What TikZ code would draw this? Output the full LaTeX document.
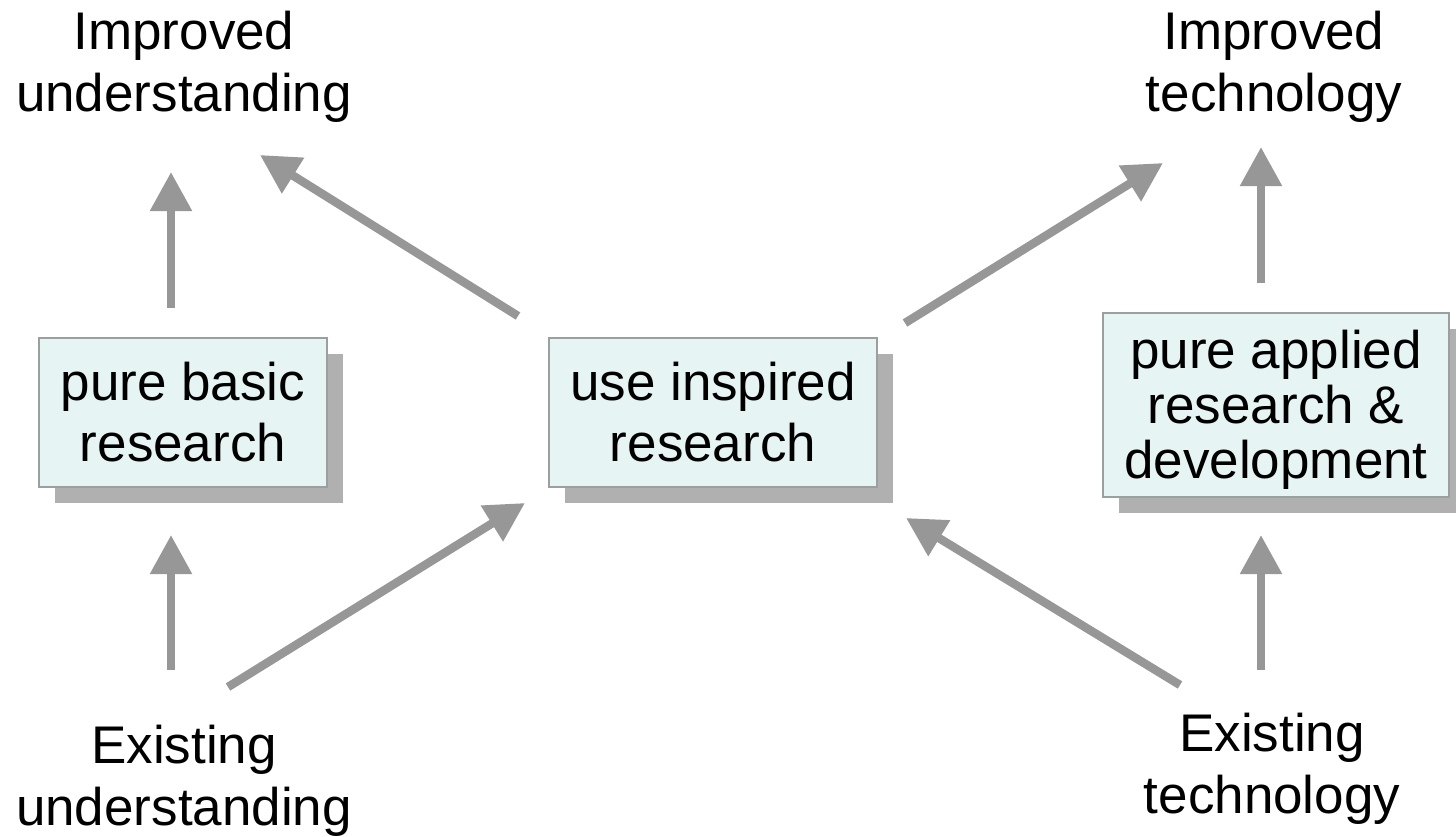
\documentclass[tikz,border=0pt]{standalone}
\usepackage{fontspec}
\setmainfont{Liberation Sans}
\usetikzlibrary{arrows.meta}
\definecolor{arrgray}{HTML}{979797}
\definecolor{boxfill}{HTML}{E6F4F4}
\definecolor{boxline}{HTML}{9AA0A0}
\definecolor{shadowgray}{HTML}{B0B0B0}
\tikzset{
  lbl/.style={font=\fontsize{53}{62}\selectfont, align=center, inner sep=0pt},
  resbox/.style={draw=boxline, line width=1.5pt, fill=boxfill, align=center, inner sep=0pt,
    font=\fontsize{53}{61}\selectfont},
  shadowbox/.style={fill=shadowgray, draw=none},
  arr/.style={draw=arrgray, line width=8.5pt, -{Triangle[width=40pt,length=39pt]}, fill=arrgray},
}
\begin{document}
\begin{tikzpicture}[x=1pt,y=-1pt]
\useasboundingbox (0,0) rectangle (1456,836);
% shadows
\fill[shadowbox] (55,354) rectangle (343,503);
\fill[shadowbox] (565,354) rectangle (893,503);
\fill[shadowbox] (1119,329) rectangle (1456,513);
% boxes
\node[resbox, minimum width=288pt, minimum height=149pt] (pbr) at (183,412.5) {pure basic\\research};
\node[resbox, minimum width=328pt, minimum height=149pt] (uir) at (713,412.5) {use inspired\\research};
\node[resbox, minimum width=346pt, minimum height=184pt] (par) at (1276,405) {};
\node[lbl, font=\fontsize{53}{55}\selectfont] (partxt) at (1276,410) {pure applied\\research \&\\development};
% labels
\node[lbl, anchor=north] (iu) at (184,11) {Improved\\understanding};
\node[lbl, anchor=north] (it) at (1274,11) {Improved\\technology};
\node[lbl, anchor=north] (eu) at (184,725) {Existing\\understanding};
\node[lbl, anchor=north] (et) at (1272,713) {Existing\\technology};
% arrow end points
\coordinate (a1s) at (171,308); \coordinate (a1e) at (171,172);
\coordinate (a2s) at (171,670); \coordinate (a2e) at (171,535);
\coordinate (a3s) at (518,316); \coordinate (a3e) at (260,155);
\coordinate (a4s) at (228,687); \coordinate (a4e) at (525,503);
\coordinate (a5s) at (905,323); \coordinate (a5e) at (1163,163);
\coordinate (a6s) at (1180,685); \coordinate (a6e) at (906,518);
\coordinate (a7s) at (1261,283); \coordinate (a7e) at (1261,147);
\coordinate (a8s) at (1261,670); \coordinate (a8e) at (1261,535);
% arrows
\draw[arr] (a1s) -- (a1e);
\draw[arr] (a2s) -- (a2e);
\draw[arr] (a3s) -- (a3e);
\draw[arr] (a4s) -- (a4e);
\draw[arr] (a5s) -- (a5e);
\draw[arr] (a6s) -- (a6e);
\draw[arr] (a7s) -- (a7e);
\draw[arr] (a8s) -- (a8e);
\end{tikzpicture}
\end{document}
